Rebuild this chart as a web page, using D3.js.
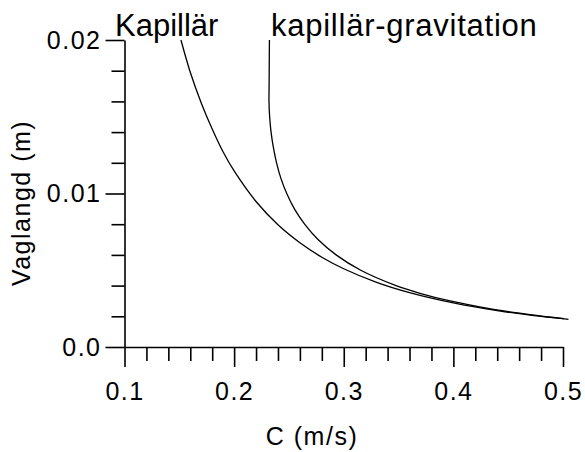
<!DOCTYPE html>
<html>
<head>
<meta charset="utf-8">
<script src="https://cdn.jsdelivr.net/npm/d3@7"></script>
<style>
  body { margin: 0; background: #fff; }
  text { font-family: 'Liberation Sans', Arial, sans-serif; fill: #000; }
</style>
</head>
<body>
<div class="canvas"></div>
<script>
const width = 585;
const height = 452;

// capillary wave: speed c (m/s) and wavelength (m)
const kapC = [0.1515, 0.16, 0.17, 0.18, 0.19, 0.20, 0.22, 0.24, 0.26, 0.28,
  0.30, 0.33, 0.36, 0.40, 0.44, 0.48, 0.505];
const kapL = [0.0200, 0.0179, 0.0159, 0.0142, 0.0127, 0.01147, 0.00948, 0.00796,
  0.00679, 0.00585, 0.00510, 0.00421, 0.00354, 0.00287, 0.00237, 0.00199, 0.00180];

// capillary-gravity wave
const kgC = [0.2322, 0.2319, 0.2318, 0.2324, 0.2337, 0.2358, 0.2387, 0.2426,
  0.2480, 0.2550, 0.2643, 0.2765, 0.2930, 0.3155, 0.3477, 0.3695, 0.3970,
  0.4329, 0.4604, 0.4822, 0.5008];
const kgL = [0.0200, 0.0170, 0.0160, 0.0150, 0.0140, 0.0130, 0.0120, 0.0110,
  0.0100, 0.0090, 0.0080, 0.0070, 0.0060, 0.0050, 0.0040, 0.0035, 0.0030,
  0.0025, 0.0022, 0.0020, 0.00185];

const xTicks = [0.1, 0.2, 0.3, 0.4, 0.5];
const xTickLabels = ['0.1', '0.2', '0.3', '0.4', '0.5'];
const yTicks = [0, 0.01, 0.02];
const yTickLabels = ['0.0', '0.01', '0.02'];

const canvas = d3
  .select('.canvas')
  .append('svg')
  .attr('width', width)
  .attr('height', height);

const xScale = d3.scaleLinear().domain([0.1, 0.5]).range([124.5, 563]);
const yScale = d3.scaleLinear().domain([0, 0.02]).range([347, 40]);

// minor ticks every 0.02 on x and 0.002 on y
const xMinor = d3.range(0.12, 0.5, 0.02).filter((v) => Math.abs(v * 10 - Math.round(v * 10)) > 1e-6);
const yMinor = d3.range(0.002, 0.02, 0.002).filter((v) => Math.abs(v * 100 - Math.round(v * 100)) > 1e-6);

const axisText = (sel) =>
  sel.selectAll('text')
    .style('font-size', '25px')
    .style('letter-spacing', '1.5px');

// x axis
const xAxisG = canvas.append('g')
  .attr('transform', 'translate(0,347)')
  .call(d3.axisBottom(xScale).tickValues(xTicks).tickSize(20).tickSizeOuter(0)
    .tickFormat((d, i) => xTickLabels[i]));
xAxisG.selectAll('text').attr('dy', null).attr('y', 53);
axisText(xAxisG);
canvas.append('g')
  .attr('transform', 'translate(0,347)')
  .call(d3.axisBottom(xScale).tickValues(xMinor).tickSize(14).tickFormat(''))
  .select('.domain').remove();

// y axis
const yAxisG = canvas.append('g')
  .attr('transform', 'translate(124.5,0)')
  .call(d3.axisLeft(yScale).tickValues(yTicks).tickSize(19).tickPadding(4).tickSizeOuter(0)
    .tickFormat((d, i) => yTickLabels[i]));
axisText(yAxisG);
canvas.append('g')
  .attr('transform', 'translate(124.5,0)')
  .call(d3.axisLeft(yScale).tickValues(yMinor).tickSize(13).tickFormat(''))
  .select('.domain').remove();

canvas.selectAll('.domain, .tick line')
  .attr('stroke', '#000')
  .attr('stroke-width', 1.6);

// curves
const line = d3.line()
  .x((d) => xScale(d[0]))
  .y((d) => yScale(d[1]))
  .curve(d3.curveCatmullRom);

const series = [
  d3.zip(kapC, kapL),
  d3.zip(kgC, kgL)
];

canvas.selectAll('path.curve')
  .data(series)
  .enter()
  .append('path')
  .attr('class', 'curve')
  .attr('d', line)
  .attr('fill', 'none')
  .attr('stroke', '#000')
  .attr('stroke-width', 1.3);

// labels
canvas.append('text')
  .attr('x', 115)
  .attr('y', 36)
  .style('font-size', '31px')
  .text('Kapillär');

canvas.append('text')
  .attr('x', 271)
  .attr('y', 36)
  .style('font-size', '31px')
  .style('letter-spacing', '0.75px')
  .text('kapillär-gravitation');

canvas.append('text')
  .attr('x', 312)
  .attr('y', 445)
  .attr('text-anchor', 'middle')
  .style('font-size', '25px')
  .style('letter-spacing', '1.5px')
  .text('C (m/s)');

canvas.append('text')
  .attr('transform', 'translate(30,203) rotate(-90)')
  .attr('text-anchor', 'middle')
  .style('font-size', '25px')
  .style('letter-spacing', '1.5px')
  .text('Vaglangd (m)');
</script>
</body>
</html>
